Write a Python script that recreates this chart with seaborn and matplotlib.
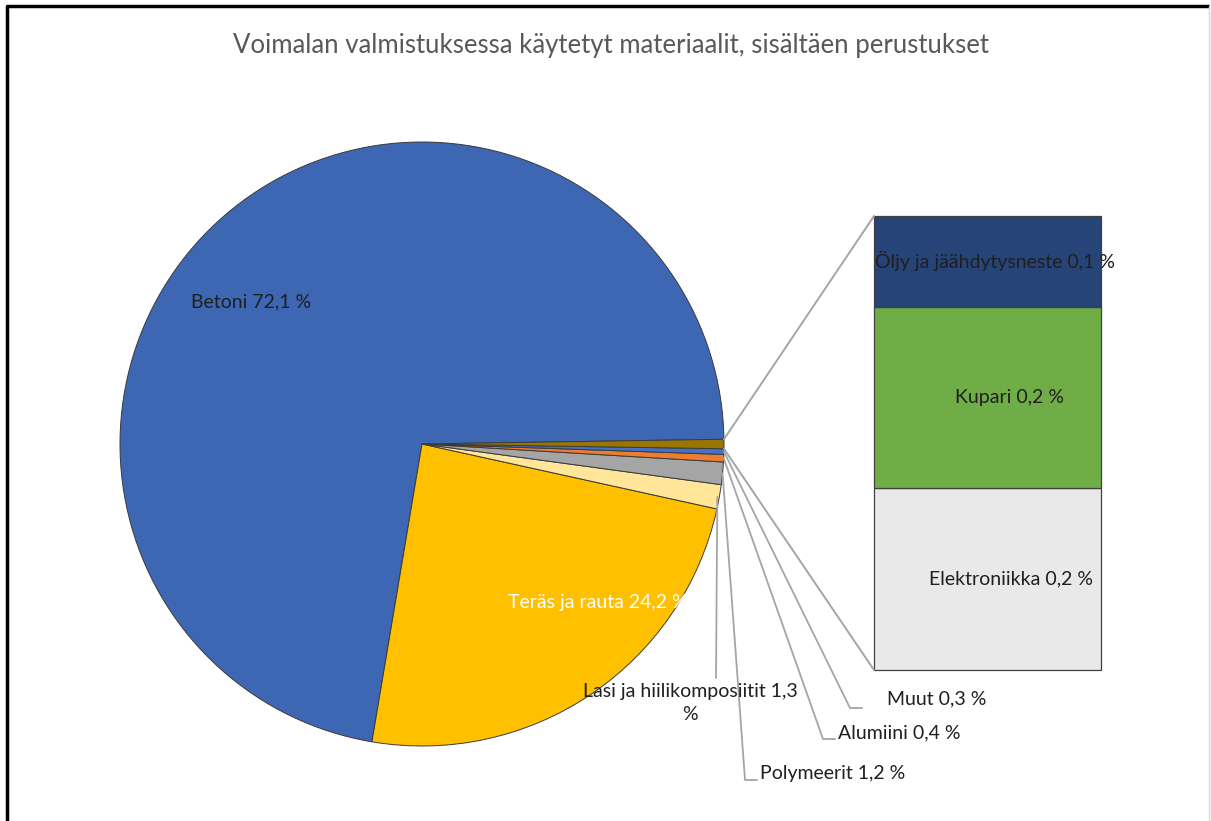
import matplotlib
matplotlib.use("Agg")
import matplotlib.pyplot as plt
from matplotlib.patches import ConnectionPatch
import numpy as np
import seaborn as sns

sns.set_theme(style="white")
plt.rcParams["font.family"] = ["Lato", "DejaVu Sans"]

# Shares of materials (%), main pie
pie_labels = ["Betoni", "Teräs ja rauta", "Lasi ja hiilikomposiitit",
              "Polymeerit", "Alumiini", "Muut"]
pie_values = [72.1, 24.2, 1.3, 1.2, 0.4, 0.3]
pie_colors = ["#3D67B3", "#FFC000", "#FFE699", "#A5A5A5", "#ED7D31", "#4472C4"]

# Small items combined into one slice and broken out in the bar
bar_labels = ["Elektroniikka", "Kupari", "Öljy ja jäähdytysneste"]
bar_values = [0.2, 0.2, 0.1]
bar_colors = ["#E9E9E9", "#70AD47", "#264478"]
other_color = "#9A7600"

title = "Voimalan valmistuksessa käytetyt materiaalit, sisältäen perustukset"

FS = 14
TXT = "#1f1f1f"


def fmt(v):
    return f"{v:.1f}".replace(".", ",") + " %"


W, H = 1211, 821
fig = plt.figure(figsize=(W / 100, H / 100), dpi=100)
fig.patch.set_facecolor("white")

# Pie axes in pixel-like units (y up)
ax = fig.add_axes([0, 0, 1, 1])
other_total = sum(bar_values)
values = pie_values + [other_total]
colors = pie_colors + [other_color]
start = other_total / 100 * 360 / 2
cx, cy, r = 422, H - 444, 302
wedges, _ = ax.pie(values, colors=colors, startangle=start, counterclock=True,
                   center=(cx, cy), radius=r, frame=True,
                   wedgeprops=dict(edgecolor="#3a3a3a", linewidth=0.7))
ax.set_xlim(0, W)
ax.set_ylim(0, H)
ax.set_aspect("auto")
ax.axis("off")

# Stacked bar for the combined slice
axb = fig.add_axes([874 / W, (H - 670) / H, 227 / W, 454 / H])
bottom = 0
for lab, val, col in zip(bar_labels, bar_values, bar_colors):
    axb.bar(0, val, width=1, bottom=bottom, color=col,
            edgecolor="#404040", linewidth=0.9, clip_on=False)
    bottom += val
axb.set_xlim(-0.5, 0.5)
axb.set_ylim(0, other_total)
axb.axis("off")

# Bar labels
bar_text_x = {"Elektroniikka": 0.105, "Kupari": 0.095,
              "Öljy ja jäähdytysneste": 0.035}
cum = 0
for lab, val in zip(bar_labels, bar_values):
    axb.text(bar_text_x[lab], cum + val / 2, f"{lab} {fmt(val)}", ha="center",
             va="center", fontsize=FS, color=TXT, clip_on=False)
    cum += val

# Connector lines from the combined slice to the bar
w_other = wedges[-1]
for ang, ybar in [(w_other.theta2, other_total), (w_other.theta1, 0)]:
    px = cx + r * np.cos(np.radians(ang))
    py = cy + r * np.sin(np.radians(ang))
    con = ConnectionPatch(xyA=(px, py), coordsA=ax.transData,
                          xyB=(-0.5, ybar), coordsB=axb.transData,
                          color="#A5A5A5", linewidth=1.4)
    fig.add_artist(con)

# Pie labels
ax.text(251, H - 302, f"{pie_labels[0]} {fmt(pie_values[0])}", ha="center",
        va="center", fontsize=FS, color=TXT)
ax.text(598, H - 602, f"{pie_labels[1]} {fmt(pie_values[1])}", ha="center",
        va="center", fontsize=FS, color="white")

lead_color = "#A5A5A5"


def mid_point(w):
    a = np.radians((w.theta1 + w.theta2) / 2)
    return cx + r * np.cos(a), cy + r * np.sin(a)


# Lasi ja hiilikomposiitit: label below, two lines
mx, my = mid_point(wedges[2])
ax.plot([mx - 2, 716], [my, H - 678], color=lead_color, lw=1.3)
ax.text(690, H - 703, f"{pie_labels[2]} {fmt(pie_values[2])[:-2]}\n%",
        ha="center", va="center", fontsize=FS, color=TXT,
        linespacing=1.4)

# Polymeerit, Alumiini, Muut: elbow leaders
elbows = [(3, (745, 780), (757, 780), (760, 773)),
          (4, (823, 739), (835, 739), (838, 733)),
          (5, (850, 708), (862, 708), (887, 699))]
for i, p1, p2, tpos in elbows:
    mx, my = mid_point(wedges[i])
    ax.plot([mx, p1[0], p2[0]], [my, H - p1[1], H - p2[1]],
            color=lead_color, lw=1.3)
    ax.text(tpos[0], H - tpos[1], f"{pie_labels[i]} {fmt(pie_values[i])}",
            ha="left", va="center", fontsize=FS, color=TXT)

# Title
ax.text(611, H - 45, title, ha="center", va="center", fontsize=18.5,
        color="#595959")

# Chart frame
ax.plot([7, 7, W - 2], [0, H - 6, H - 6], color="black", lw=2.5,
        solid_capstyle="butt")
ax.plot([W - 2, W - 2], [0, H - 6], color="#d9d9d9", lw=1)

fig.savefig("out.png", dpi=100, facecolor="white")
